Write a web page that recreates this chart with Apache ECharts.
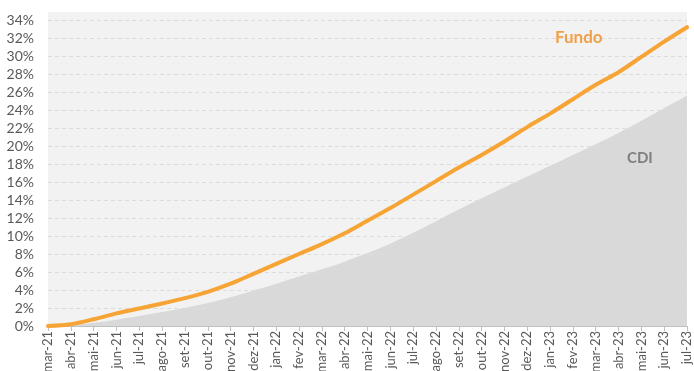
<!DOCTYPE html>
<html>
<head>
<meta charset="utf-8">
<script src="https://cdn.jsdelivr.net/npm/echarts@6/dist/echarts.min.js"></script>
<style>
  html, body { margin: 0; padding: 0; background: #ffffff; }
  #chart { width: 694px; height: 371px; }
</style>
</head>
<body>
<div id="chart"></div>
<script>
// Monthly categories, mar-21 .. jul-23
const months = [
  'mar-21', 'abr-21', 'mai-21', 'jun-21', 'jul-21', 'ago-21', 'set-21', 'out-21', 'nov-21', 'dez-21',
  'jan-22', 'fev-22', 'mar-22', 'abr-22', 'mai-22', 'jun-22', 'jul-22', 'ago-22', 'set-22', 'out-22',
  'nov-22', 'dez-22', 'jan-23', 'fev-23', 'mar-23', 'abr-23', 'mai-23', 'jun-23', 'jul-23'
];

// Accumulated return of the fund (%)
const fundo = [
  0.0, 0.2, 0.75, 1.4, 1.95, 2.5, 3.1, 3.8, 4.7, 5.8,
  6.9, 8.0, 9.1, 10.3, 11.7, 13.1, 14.6, 16.1, 17.6, 19.0,
  20.5, 22.1, 23.6, 25.2, 26.8, 28.2, 29.9, 31.6, 33.2
];

// Accumulated CDI (%)
const cdi = [
  0.0, 0.1, 0.35, 0.7, 1.1, 1.55, 2.0, 2.55, 3.2, 3.95,
  4.7, 5.5, 6.3, 7.15, 8.1, 9.15, 10.35, 11.65, 12.95, 14.2,
  15.4, 16.6, 17.8, 19.0, 20.2, 21.45, 22.8, 24.2, 25.6
];

// Y axis range and step (%)
const yMin = 0;
const yMax = 34;
const yStep = 2;

const FONT = 'Lato, "Open Sans", sans-serif';
const GRID = { left: 48, right: 7, top: 20, bottom: 45 };
const W = 694, H = 371;

const chart = echarts.init(document.getElementById('chart'), null, { renderer: 'canvas' });

chart.setOption({
  animation: false,
  backgroundColor: '#ffffff',
  textStyle: { fontFamily: FONT },
  grid: {
    left: GRID.left, right: GRID.right, top: GRID.top, bottom: GRID.bottom,
    containLabel: false,
    outerBoundsMode: 'none'
  },
  graphic: [
    {
      // light plot background, reaching a little above the top gridline
      type: 'rect',
      z: -10,
      silent: true,
      shape: { x: GRID.left, y: 12, width: W - GRID.left - GRID.right, height: H - GRID.bottom - 12 },
      style: { fill: '#f2f2f2' }
    },
    {
      type: 'text',
      left: 555, top: 29,
      z: 10,
      style: { text: 'Fundo', fill: '#f0a04b', font: 'bold 17px ' + FONT }
    },
    {
      type: 'text',
      left: 627, top: 151,
      z: 10,
      style: { text: 'CDI', fill: '#7f7f7f', font: 'bold 15px ' + FONT }
    }
  ],
  xAxis: {
    type: 'category',
    data: months,
    boundaryGap: false,
    axisLine: { show: true, lineStyle: { color: '#bfbfbf', width: 1 } },
    axisTick: { show: true, alignWithLabel: true, length: 5, lineStyle: { color: '#bfbfbf' } },
    axisLabel: {
      rotate: 90,
      interval: 0,
      margin: 5,
      color: '#595959',
      fontSize: 13,
      fontFamily: FONT
    },
    splitLine: { show: false }
  },
  yAxis: {
    type: 'value',
    min: yMin,
    max: yMax,
    interval: yStep,
    axisLine: { show: false },
    axisTick: { show: false },
    axisLabel: {
      formatter: v => v + '%',
      color: '#595959',
      fontSize: 14,
      margin: 14,
      fontFamily: FONT
    },
    splitLine: { show: true, lineStyle: { color: '#dcdcdc', type: [4, 3], width: 1 } }
  },
  series: [
    {
      name: 'CDI',
      type: 'line',
      data: cdi,
      z: -5,
      symbol: 'none',
      smooth: 0.3,
      lineStyle: { width: 0 },
      areaStyle: { color: '#d9d9d9', opacity: 1 },
      silent: true
    },
    {
      name: 'Fundo',
      type: 'line',
      data: fundo,
      z: 3,
      symbol: 'none',
      smooth: 0.3,
      lineStyle: { color: '#f6a435', width: 4, cap: 'round', join: 'round' },
      silent: true
    }
  ]
});
</script>
</body>
</html>
